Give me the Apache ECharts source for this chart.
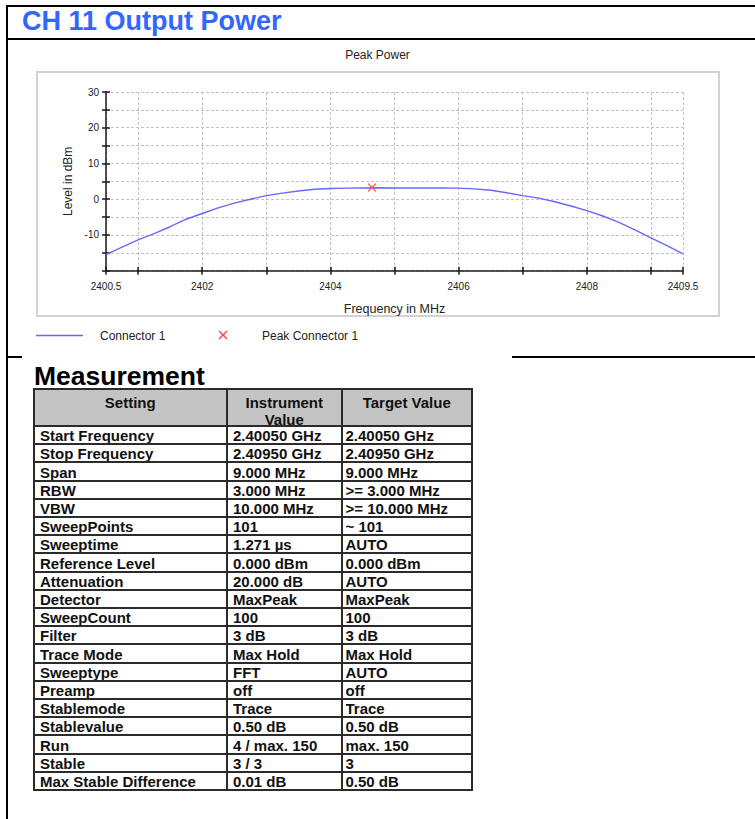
<!DOCTYPE html>
<html>
<head>
<meta charset="utf-8">
<title>CH 11 Output Power</title>
<script src="https://cdn.jsdelivr.net/npm/echarts@6/dist/echarts.min.js"></script>
<style>
  html, body { margin: 0; padding: 0; background: #fff; }
  body { width: 755px; height: 819px; position: relative; overflow: hidden;
         font-family: "Liberation Sans", Arial, Helvetica, sans-serif; }
  .rule { position: absolute; background: #000; }
  #heading { position: absolute; left: 22px; top: 8px; font-size: 27px; line-height: 27px;
             font-weight: bold; color: #3366ff; white-space: nowrap; }
  #chart { position: absolute; left: 0; top: 40px; width: 755px; height: 316px; }
  #measTitle { position: absolute; left: 34px; top: 363px; font-size: 26.5px; line-height: 26px;
               font-weight: bold; color: #000; white-space: nowrap; }
  .cell { position: absolute; font-size: 15px; font-weight: bold; color: #111;
          white-space: nowrap; overflow: hidden; line-height: 18px; box-sizing: border-box; }
  .hcell { position: absolute; font-size: 15px; font-weight: bold; color: #111;
           white-space: pre; line-height: 17px; text-align: center; }
  .tline { position: absolute; background: #2b2b2b; z-index: 2; }
  .thead { position: absolute; background: #c4c4c4; }
</style>
</head>
<body>
<div class="rule" style="left:6px;top:5px;width:2px;height:814px;"></div>
<div class="rule" style="left:6px;top:5px;width:749px;height:2px;"></div>
<div class="rule" style="left:8px;top:38px;width:747px;height:2px;"></div>
<div class="rule" style="left:8px;top:356px;width:14px;height:2px;"></div>
<div class="rule" style="left:512px;top:356px;width:243px;height:2px;"></div>
<div id="heading">CH 11 Output Power</div>
<div id="chart"></div>
<div id="measTitle">Measurement</div>
<div id="table"></div>
<script>
// Peak power trace (Connector 1), frequency in MHz / level in dBm
const freqMHz = [2400.5, 2400.75, 2401.0, 2401.25, 2401.5, 2401.75, 2402.0, 2402.25, 2402.5,
  2402.75, 2403.0, 2403.25, 2403.5, 2403.75, 2404.0, 2404.25, 2404.5, 2404.75, 2405.0,
  2405.25, 2405.5, 2405.75, 2406.0, 2406.25, 2406.5, 2406.75, 2407.0, 2407.25, 2407.5,
  2407.75, 2408.0, 2408.25, 2408.5, 2408.75, 2409.0, 2409.25, 2409.5];
const levelDbm = [-15.5, -13.4, -11.4, -9.6, -7.7, -5.6, -4.0, -2.4, -1.1,
  0.0, 1.0, 1.7, 2.3, 2.8, 3.0, 3.1, 3.15, 3.2, 3.15,
  3.15, 3.15, 3.15, 3.1, 2.9, 2.5, 1.8, 1.0, 0.3, -0.7,
  -1.9, -3.2, -4.7, -6.5, -8.6, -10.8, -13.0, -15.3];
// Peak marker (Peak Connector 1)
const peakFreq = 2404.65;
const peakLevel = 3.3;

// Axis ticks and labels
const xTickValues = [2400.5, 2401, 2402, 2403, 2404, 2405, 2406, 2407, 2408, 2409, 2409.5];
const xLabelValues = [2400.5, 2402, 2404, 2406, 2408, 2409.5];
const yLabelValues = [-10, 0, 10, 20, 30];

// Measurement settings table
const tableHeaders = ['Setting', 'Instrument\nValue', 'Target Value'];
const settingNames = ['Start Frequency', 'Stop Frequency', 'Span', 'RBW', 'VBW', 'SweepPoints',
  'Sweeptime', 'Reference Level', 'Attenuation', 'Detector', 'SweepCount', 'Filter',
  'Trace Mode', 'Sweeptype', 'Preamp', 'Stablemode', 'Stablevalue', 'Run', 'Stable',
  'Max Stable Difference'];
const instrumentValues = ['2.40050 GHz', '2.40950 GHz', '9.000 MHz', '3.000 MHz', '10.000 MHz', '101',
  '1.271 µs', '0.000 dBm', '20.000 dB', 'MaxPeak', '100', '3 dB',
  'Max Hold', 'FFT', 'off', 'Trace', '0.50 dB', '4 / max. 150', '3 / 3',
  '0.01 dB'];
const targetValues = ['2.40050 GHz', '2.40950 GHz', '9.000 MHz', '>= 3.000 MHz', '>= 10.000 MHz', '~ 101',
  'AUTO', '0.000 dBm', 'AUTO', 'MaxPeak', '100', '3 dB',
  'Max Hold', 'AUTO', 'off', 'Trace', '0.50 dB', 'max. 150', '3',
  '0.50 dB'];

// ---- chart ----
const FONT = '"Liberation Sans", Arial, sans-serif';
const traceData = freqMHz.map((f, i) => [f, levelDbm[i]]);
// "x" glyph outline in a 10x10 box
const crossPts = [[0, 1.2], [1.2, 0], [5, 3.8], [8.8, 0], [10, 1.2], [6.2, 5], [10, 8.8],
  [8.8, 10], [5, 6.2], [1.2, 10], [0, 8.8], [3.8, 5]];
const crossPath = 'path://M' + crossPts.map(p => p[0] + ',' + p[1]).join('L') + 'Z';
const gridDash = { color: '#c2c2c2', width: 1, type: [3, 2] };
const axisInk = { color: '#1a1a1a', width: 1.5 };

const chart = echarts.init(document.getElementById('chart'), null, { renderer: 'svg' });
chart.setOption({
  animation: false,
  backgroundColor: 'transparent',
  title: {
    text: 'Peak Power', left: 'center', top: 4,
    textStyle: { fontSize: 12, fontWeight: 'normal', color: '#222', fontFamily: FONT }
  },
  grid: { left: 106, top: 52, width: 577, height: 178.7 },
  xAxis: [
    {
      type: 'value', min: 2400.5, max: 2409.5, position: 'bottom',
      name: 'Frequency in MHz', nameLocation: 'middle', nameGap: 32,
      nameTextStyle: { fontSize: 12.5, color: '#222', fontFamily: FONT },
      axisLine: { show: true, onZero: false, lineStyle: axisInk },
      axisTick: { show: true, length: 4, customValues: xTickValues, lineStyle: axisInk },
      axisLabel: { customValues: xLabelValues, margin: 11, fontSize: 10, color: '#222',
                   fontFamily: FONT, formatter: v => String(v) },
      splitLine: { show: true, lineStyle: gridDash }
    },
    {
      type: 'value', min: 2400.5, max: 2409.5, position: 'bottom',
      axisLine: { show: false, onZero: false },
      axisTick: { show: true, inside: true, length: 4, customValues: xTickValues, lineStyle: axisInk },
      axisLabel: { show: false },
      splitLine: { show: false }
    }
  ],
  yAxis: [
    {
      type: 'value', min: -20, max: 30, interval: 5, position: 'left',
      name: 'Level in dBm', nameLocation: 'middle', nameGap: 31,
      nameTextStyle: { fontSize: 12, color: '#222', fontFamily: FONT },
      axisLine: { show: true, onZero: false, lineStyle: axisInk },
      axisTick: { show: true, length: 4, lineStyle: axisInk },
      axisLabel: {
        margin: 7, fontSize: 10, color: '#222', fontFamily: FONT,
        formatter: v => (yLabelValues.indexOf(v) >= 0 ? String(v) : '')
      },
      splitLine: { show: true, lineStyle: gridDash }
    },
    {
      type: 'value', min: -20, max: 30, interval: 5, position: 'left',
      axisLine: { show: false, onZero: false },
      axisTick: { show: true, inside: true, length: 4, lineStyle: axisInk },
      axisLabel: { show: false },
      splitLine: { show: false }
    }
  ],
  series: [
    {
      name: 'Connector 1', type: 'line', xAxisIndex: 0, yAxisIndex: 0,
      data: traceData, showSymbol: false, smooth: false,
      lineStyle: { color: '#6868ff', width: 1.4 }, z: 3
    },
    {
      name: 'Peak Connector 1', type: 'scatter', xAxisIndex: 0, yAxisIndex: 0,
      data: [[peakFreq, peakLevel]], symbol: crossPath, symbolSize: 9,
      itemStyle: { color: '#ff4848' }, z: 4
    }
  ],
  graphic: [
    { type: 'rect', silent: true, z: -1,
      shape: { x: 37, y: 32, width: 682, height: 244 },
      style: { fill: 'none', stroke: '#d2d2d2', lineWidth: 2 } },
    { type: 'line', silent: true,
      shape: { x1: 36, y1: 295.5, x2: 83, y2: 295.5 },
      style: { stroke: '#6868ff', lineWidth: 1.4 } },
    { type: 'text', silent: true, x: 100, y: 296,
      style: { text: 'Connector 1', fontSize: 12, fill: '#222', fontFamily: FONT, verticalAlign: 'middle' } },
    { type: 'polygon', silent: true, x: 218.5, y: 290.5, scaleX: 0.9, scaleY: 0.9,
      shape: { points: crossPts },
      style: { fill: '#ff4848' } },
    { type: 'text', silent: true, x: 262, y: 296,
      style: { text: 'Peak Connector 1', fontSize: 12, fill: '#222', fontFamily: FONT, verticalAlign: 'middle' } }
  ]
});

// ---- measurement table ----
(function buildTable() {
  const host = document.getElementById('table');
  const colX = [33.5, 227, 341.5, 472];
  const colPad = [6.5, 6, 4];
  const headTop = 389, headBottom = 426, rowH = 18.2;
  const rows = settingNames.map((s, i) => [s, instrumentValues[i], targetValues[i]]);
  const bottom = headBottom + rows.length * rowH;

  function add(cls, css, text) {
    const d = document.createElement('div');
    d.className = cls;
    Object.assign(d.style, css);
    if (text !== undefined) d.textContent = text;
    host.appendChild(d);
    return d;
  }

  add('thead', { left: colX[0] + 'px', top: headTop + 'px', width: (colX[3] - colX[0]) + 'px',
                 height: (headBottom - headTop) + 'px' });

  tableHeaders.forEach((h, c) => {
    add('hcell', { left: colX[c] + 'px', top: (headTop + 4.5) + 'px',
      width: (colX[c + 1] - colX[c]) + 'px' }, h);
  });

  rows.forEach((r, i) => {
    const top = headBottom + i * rowH;
    r.forEach((t, c) => {
      add('cell', { left: (colX[c] + colPad[c]) + 'px', top: top + 'px',
        width: (colX[c + 1] - colX[c] - colPad[c]) + 'px', height: (rowH + 1) + 'px',
        paddingTop: '1.2px' }, t);
    });
  });

  const hLines = [headTop, headBottom];
  for (let k = 1; k <= rows.length; k++) hLines.push(headBottom + k * rowH);
  hLines.forEach(y => add('tline', { left: (colX[0] - 1) + 'px', top: (y - 1) + 'px',
    width: (colX[3] - colX[0] + 2) + 'px', height: '2px' }));
  colX.forEach(x => add('tline', { left: (x - 1) + 'px', top: (headTop - 1) + 'px',
    width: '2px', height: (bottom - headTop + 2) + 'px' }));
})();
</script>
</body>
</html>
